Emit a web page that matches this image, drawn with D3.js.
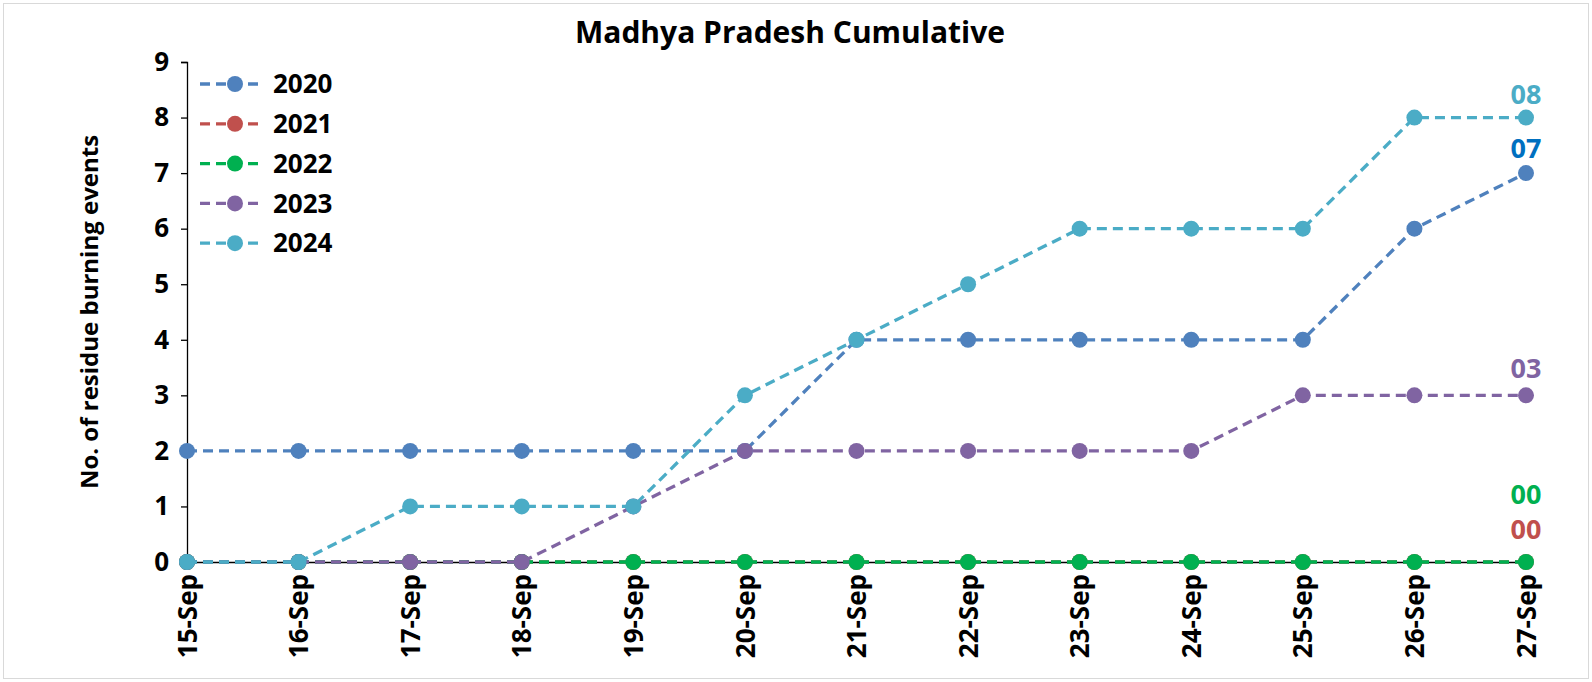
<!DOCTYPE html>
<html>
<head>
<meta charset="utf-8">
<script src="https://cdn.jsdelivr.net/npm/d3@7"></script>
<style>
  body { margin: 0; background: #fff; }
  text { font-family: "Open Sans", Calibri, sans-serif; font-weight: bold; }
</style>
</head>
<body>
<div id="chart"></div>
<script>
var w = 1592,
    h = 682;

var dates = ["15-Sep", "16-Sep", "17-Sep", "18-Sep", "19-Sep", "20-Sep", "21-Sep",
             "22-Sep", "23-Sep", "24-Sep", "25-Sep", "26-Sep", "27-Sep"];
var years = ["2020", "2021", "2022", "2023", "2024"];
var v2020 = [2, 2, 2, 2, 2, 2, 4, 4, 4, 4, 4, 6, 7];
var v2021 = [0, 0, 0, 0, 0, 0, 0, 0, 0, 0, 0, 0, 0];
var v2022 = [0, 0, 0, 0, 0, 0, 0, 0, 0, 0, 0, 0, 0];
var v2023 = [0, 0, 0, 0, 1, 2, 2, 2, 2, 2, 3, 3, 3];
var v2024 = [0, 0, 1, 1, 1, 3, 4, 5, 6, 6, 6, 8, 8];
var yTicks = [0, 1, 2, 3, 4, 5, 6, 7, 8, 9];

var color = d3.scaleOrdinal()
    .domain(years)
    .range(["#4F81BD", "#C0504D", "#00B050", "#8064A2", "#4BACC6"]);

// end label colour & vertical nudge
var endLabel = {
    "2020": { fill: "#0070C0", dy: -25 },
    "2021": { fill: "#C0504D", dy: -32 },
    "2022": { fill: "#00B050", dy: -67 },
    "2023": { fill: "#8064A2", dy: -27 },
    "2024": { fill: "#4BACC6", dy: -23 }
};

var series = [
    { year: "2020", values: v2020 },
    { year: "2021", values: v2021 },
    { year: "2022", values: v2022 },
    { year: "2023", values: v2023 },
    { year: "2024", values: v2024 }
];

var margin = { left: 187, right: 66, top: 62, bottom: 120 };

var x = d3.scalePoint()
    .domain(dates)
    .range([margin.left, w - margin.right]);

var y = d3.scaleLinear()
    .domain([0, 9])
    .range([h - margin.bottom, margin.top]);

var svg = d3.select("#chart").append("svg")
    .attr("width", w)
    .attr("height", h);

svg.append("rect")
    .attr("x", 3.5).attr("y", 3.5)
    .attr("width", w - 7).attr("height", h - 7)
    .attr("fill", "none")
    .attr("stroke", "#d9d9d9");

svg.append("text")
    .attr("x", 790)
    .attr("y", 43)
    .attr("text-anchor", "middle")
    .style("font-size", "30px")
    .text("Madhya Pradesh Cumulative");

// y axis
var yAxis = svg.append("g")
    .attr("transform", "translate(" + margin.left + ",0)")
    .call(d3.axisLeft(y).tickValues(yTicks).tickSize(6).tickPadding(12));
yAxis.selectAll("text").style("font-size", "26px").attr("fill", "#000");
yAxis.select(".domain").attr("stroke", "#000").attr("stroke-width", 1.3);
yAxis.selectAll(".tick line").attr("stroke", "#000").attr("stroke-width", 1.3);

svg.append("text")
    .attr("transform", "translate(98," + ((y(0) + y(9)) / 2) + ") rotate(-90)")
    .attr("text-anchor", "middle")
    .style("font-size", "24px")
    .text("No. of residue burning events");

// x axis
var xAxis = svg.append("g")
    .attr("transform", "translate(0," + y(0) + ")")
    .call(d3.axisBottom(x).tickSize(6).tickPadding(8));
xAxis.select(".domain").attr("stroke", "#000").attr("stroke-width", 1.3);
xAxis.selectAll(".tick line").attr("stroke", "#000").attr("stroke-width", 1.3);
xAxis.selectAll("text")
    .style("font-size", "26px")
    .attr("fill", "#000")
    .attr("text-anchor", "end")
    .attr("transform", "rotate(-90)")
    .attr("x", -12)
    .attr("y", 0)
    .attr("dy", "0.35em");

var line = d3.line()
    .x(function(d, i) { return x(dates[i]); })
    .y(function(d) { return y(d); });

var groups = svg.selectAll(".series")
    .data(series)
    .enter().append("g")
    .attr("class", "series");

groups.append("path")
    .attr("d", function(d) { return line(d.values); })
    .attr("fill", "none")
    .attr("stroke", function(d) { return color(d.year); })
    .attr("stroke-width", 3.3)
    .attr("stroke-dasharray", "10,6");

groups.selectAll("circle")
    .data(function(d) { return d.values.map(function(v, i) { return { year: d.year, v: v, i: i }; }); })
    .enter().append("circle")
    .attr("cx", function(d) { return x(dates[d.i]); })
    .attr("cy", function(d) { return y(d.v); })
    .attr("r", 8)
    .attr("fill", function(d) { return color(d.year); });

groups.append("text")
    .attr("x", function(d) { return x(dates[dates.length - 1]); })
    .attr("y", function(d) { return y(d.values[d.values.length - 1]) + endLabel[d.year].dy; })
    .attr("dy", "0.35em")
    .attr("text-anchor", "middle")
    .attr("fill", function(d) { return endLabel[d.year].fill; })
    .style("font-size", "27px")
    .text(function(d) { return d3.format("02d")(d.values[d.values.length - 1]); });

// legend
var legend = svg.selectAll(".legend")
    .data(years)
    .enter().append("g")
    .attr("class", "legend")
    .attr("transform", function(d, i) { return "translate(200," + (84 + i * 39.8) + ")"; });

legend.append("line")
    .attr("x1", 0).attr("x2", 64)
    .attr("stroke", function(d) { return color(d); })
    .attr("stroke-width", 3.3)
    .attr("stroke-dasharray", "10,6");

legend.append("circle")
    .attr("cx", 35).attr("r", 8)
    .attr("fill", function(d) { return color(d); });

legend.append("text")
    .attr("x", 73)
    .attr("dy", "0.35em")
    .style("font-size", "26px")
    .text(function(d) { return d; });
</script>
</body>
</html>
